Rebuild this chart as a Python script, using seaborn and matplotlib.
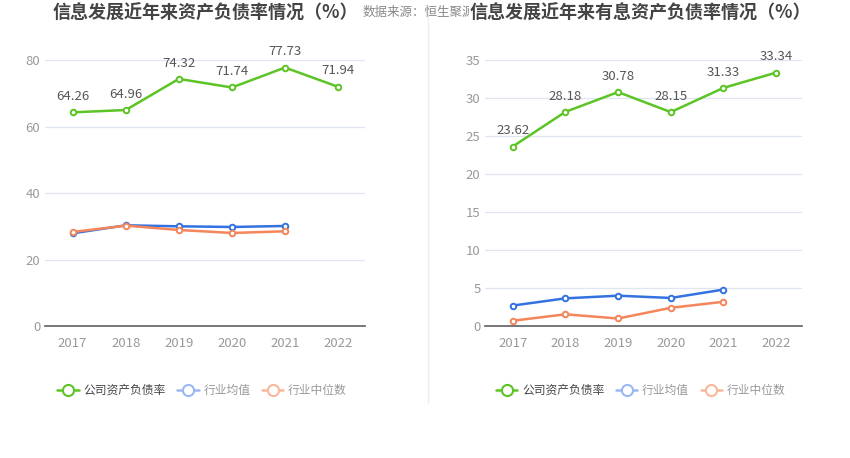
import numpy as np
import pandas as pd
import matplotlib.pyplot as plt
import seaborn as sns
from matplotlib.lines import Line2D

years = ['2017', '2018', '2019', '2020', '2021', '2022']

# 资产负债率
debt_company = [64.26, 64.96, 74.32, 71.74, 77.73, 71.94]
debt_mean = [27.9, 30.3, 30.0, 29.8, 30.1, np.nan]
debt_median = [28.3, 30.2, 28.9, 28.0, 28.5, np.nan]

# 有息资产负债率
int_company = [23.62, 28.18, 30.78, 28.15, 31.33, 33.34]
int_mean = [2.7, 3.65, 4.0, 3.7, 4.8, np.nan]
int_median = [0.7, 1.55, 1.0, 2.4, 3.2, np.nan]

series_names = ['公司资产负债率', '行业均值', '行业中位数']
colors = ['#5cc424', '#3372e0', '#f5855a']
legend_colors = ['#5cc424', '#9ab8f3', '#f9b79c']

sns.set_theme(style='white')
plt.rcParams['font.family'] = ['Noto Sans CJK SC', 'DejaVu Sans']

fig = plt.figure(figsize=(8.5, 4.58), dpi=100)
ax1 = fig.add_axes([0.053, 0.288, 0.376, 0.581])
ax2 = fig.add_axes([0.571, 0.288, 0.373, 0.581])


def draw_panel(ax, company, mean, median, ymax, yticks):
    df = pd.DataFrame({
        'year': years * 3,
        'x': list(range(len(years))) * 3,
        'value': company + mean + median,
        'series': [s for s in series_names for _ in years],
    })
    for name, color in zip(series_names, colors):
        sub = df[df['series'] == name].dropna()
        sns.lineplot(data=sub, x='x', y='value', ax=ax, color=color,
                     linewidth=1.8, marker='o', markersize=4,
                     markerfacecolor='white', markeredgecolor=color,
                     markeredgewidth=1.4, legend=False, clip_on=False)
    for i, v in enumerate(company):
        ax.text(i, v + ymax * 0.035, f'{v:.2f}', ha='center', va='bottom',
                fontsize=9.5, color='#555555')
    ax.set_xlim(-0.52, 5.5)
    ax.set_ylim(0, ymax)
    ax.set_xticks(range(len(years)))
    ax.set_xticklabels(years)
    ax.set_yticks(yticks)
    ax.set_xlabel('')
    ax.set_ylabel('')
    ax.tick_params(axis='both', labelsize=9.5, colors='#999999', length=0)
    ax.tick_params(axis='x', length=4, color='#666666', pad=4)
    ax.grid(axis='y', color='#e0e6f1', linewidth=0.9)
    ax.set_axisbelow(True)
    for s in ['top', 'right', 'left']:
        ax.spines[s].set_visible(False)
    ax.spines['bottom'].set_color('#666666')


draw_panel(ax1, debt_company, debt_mean, debt_median, 80, [0, 20, 40, 60, 80])
draw_panel(ax2, int_company, int_mean, int_median, 35, [0, 5, 10, 15, 20, 25, 30, 35])

# titles
fig.text(0.241, 0.972, '信息发展近年来资产负债率情况（%）', ha='center', va='center',
         fontsize=13, fontweight='bold', color='#444444')
fig.text(0.426, 0.972, '数据来源：恒生聚源', ha='left', va='center',
         fontsize=9, color='#888888')
fig.text(0.753, 0.972, '信息发展近年来有息资产负债率情况（%）', ha='center', va='center',
         fontsize=13, fontweight='bold', color='#444444',
         bbox=dict(facecolor='white', edgecolor='none', pad=0.5))

# separator
fig.add_artist(Line2D([0.503, 0.503], [0.12, 0.98], color='#eeeeee', linewidth=1))

# legends
handles = [Line2D([], [], color=c, linewidth=1.8, marker='o', markersize=8,
                  markerfacecolor='white', markeredgecolor=c, markeredgewidth=1.5)
           for c in legend_colors]
for x0 in [0.062, 0.578]:
    leg = fig.legend(handles, series_names, loc='center left',
                     bbox_to_anchor=(x0, 0.148), ncol=3, frameon=False,
                     fontsize=8.5, handlelength=1.8, columnspacing=1.0,
                     handletextpad=0.4, borderaxespad=0)
    for t, c in zip(leg.get_texts(), ['#444444', '#999999', '#999999']):
        t.set_color(c)

fig.savefig('out.png', dpi=100)
